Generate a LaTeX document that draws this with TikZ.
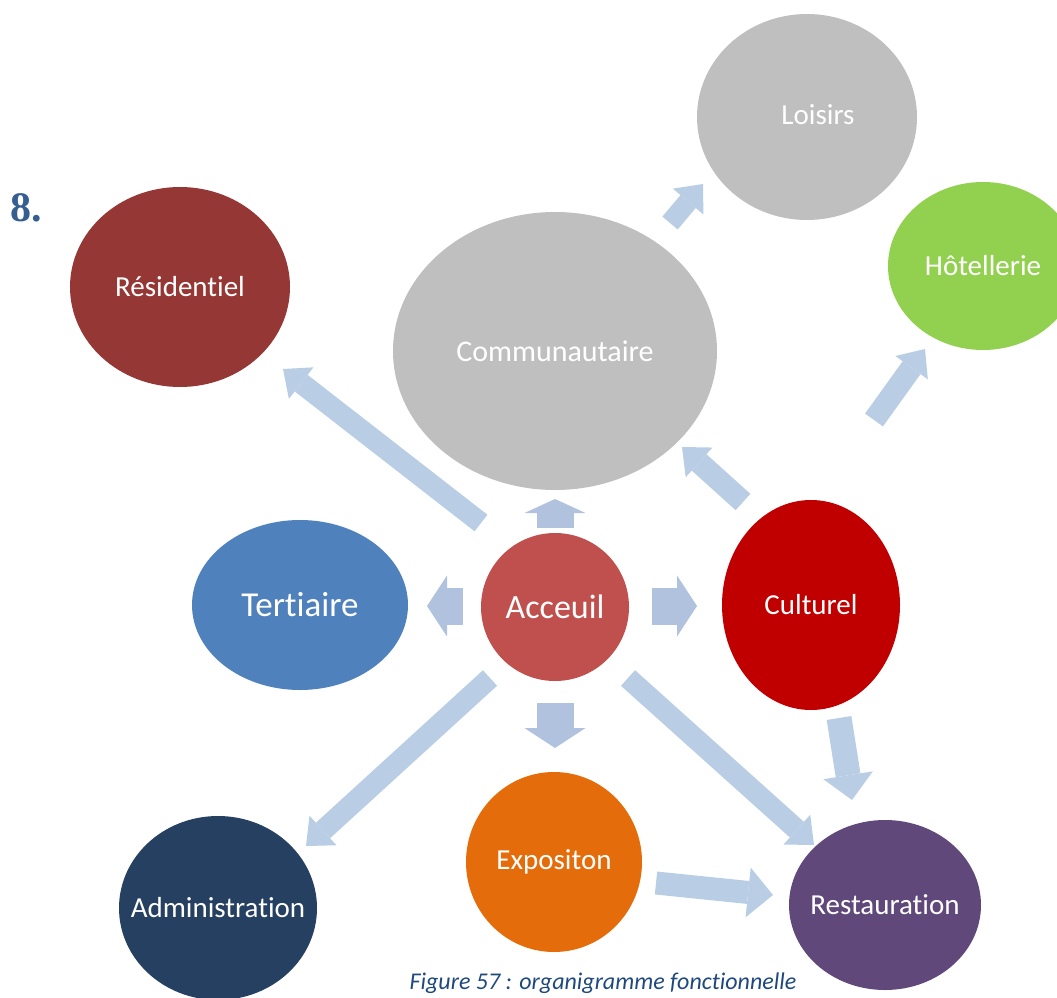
\documentclass[tikz,border=0pt]{standalone}
\usepackage{fontspec}
\setmainfont{Carlito}[Ligatures=NoCommon]
\newfontfamily\headfont{Liberation Serif}
\usepackage{tikz}
\usetikzlibrary{shapes.geometric, arrows.meta}
\definecolor{bubblegray}{RGB}{191,191,191}
\definecolor{hotelgreen}{RGB}{146,208,80}
\definecolor{resred}{RGB}{149,55,53}
\definecolor{tertblue}{RGB}{79,129,189}
\definecolor{accred}{RGB}{192,80,77}
\definecolor{cultred}{RGB}{192,0,0}
\definecolor{expoorange}{RGB}{228,108,10}
\definecolor{adminnavy}{RGB}{37,64,97}
\definecolor{restpurple}{RGB}{96,73,122}
\definecolor{linkblue}{RGB}{185,205,229}
\definecolor{stubblue}{RGB}{176,194,222}
\definecolor{headblue}{RGB}{54,95,145}
\definecolor{captionblue}{RGB}{31,73,125}
\tikzstyle{bubble} = [ellipse, inner sep=0pt]
\tikzstyle{every label} = [text=white, inner sep=0pt, font=\fontsize{29}{34}\selectfont]
\tikzstyle{link} = [draw=linkblue, line width=21pt, -{Triangle[length=23pt, width=40pt, line width=0pt]}]
\tikzstyle{widelink} = [draw=linkblue, line width=25pt, -{Triangle[length=25pt, width=50pt, line width=0pt]}]
\tikzstyle{stub} = [draw=stubblue, line width=37pt, -{Triangle[length=20pt, width=61pt, line width=0pt]}]

\begin{document}
\begin{tikzpicture}[x=1pt, y=-1pt]
    \useasboundingbox (0,0) rectangle (1057,998);
    \clip (0,0) rectangle (1057,998);
    % bubbles
    \node[bubble, fill=bubblegray, minimum width=220pt, minimum height=206pt,
        label={[xshift=11pt, yshift=2pt]center:Loisirs}] (loisirs) at (807,117) {};
    \node[bubble, fill=hotelgreen, minimum width=190pt, minimum height=168pt,
        label=center:Hôtellerie] (hotel) at (983,266) {};
    \node[bubble, fill=resred, minimum width=220pt, minimum height=200pt,
        label=center:Résidentiel] (res) at (180,287) {};
    \node[bubble, fill=bubblegray, minimum width=324pt, minimum height=278pt,
        label={[font=\fontsize{30}{36}\selectfont]center:Communautaire}] (comm) at (555,351) {};
    \node[bubble, fill=tertblue, minimum width=216pt, minimum height=170pt,
        label={[font=\fontsize{35}{42}\selectfont]center:Tertiaire}] (tert) at (300,605) {};
    \node[bubble, fill=accred, minimum width=148pt, minimum height=148pt,
        label={[font=\fontsize{34}{40}\selectfont]center:Acceuil}] (acc) at (555,607) {};
    \node[bubble, fill=cultred, minimum width=178pt, minimum height=210pt,
        label=center:Culturel] (cult) at (811,605) {};
    \node[bubble, fill=expoorange, minimum width=176pt, minimum height=180pt,
        label=center:Expositon] (expo) at (554,862) {};
    \node[bubble, fill=adminnavy, minimum width=198pt, minimum height=184pt,
        label=center:Administration] (admin) at (218,908) {};
    \node[bubble, fill=restpurple, minimum width=192pt, minimum height=170pt,
        label=center:Restauration] (rest) at (885,905) {};

    % arrow ends
    \coordinate (acc-res-t) at (481,523);
    \coordinate (acc-res-h) at (283,369);
    \coordinate (acc-admin-t) at (490,678);
    \coordinate (acc-admin-h) at (306,846);
    \coordinate (acc-rest-t) at (628,678);
    \coordinate (acc-rest-h) at (814,845);
    \coordinate (expo-rest-t) at (656,883);
    \coordinate (expo-rest-h) at (773,895);
    \coordinate (cult-rest-t) at (839,718);
    \coordinate (cult-rest-h) at (852,800);
    \coordinate (cult-comm-t) at (743,502);
    \coordinate (cult-comm-h) at (682,447);
    \coordinate (cult-hotel-t) at (874,420);
    \coordinate (cult-hotel-h) at (925,349);
    \coordinate (comm-lois-t) at (670,223);
    \coordinate (comm-lois-h) at (703,184);
    \coordinate (acc-up-t) at (555,528);
    \coordinate (acc-up-h) at (555,499);
    \coordinate (acc-left-t) at (463,606);
    \coordinate (acc-left-h) at (427,606);
    \coordinate (acc-right-t) at (652,606);
    \coordinate (acc-right-h) at (697,606);
    \coordinate (acc-down-t) at (555,703);
    \coordinate (acc-down-h) at (555,748);

    % arrows
    \draw[link] (acc-res-t) -- (acc-res-h);
    \draw[link] (acc-admin-t) -- (acc-admin-h);
    \draw[link] (acc-rest-t) -- (acc-rest-h);
    \draw[widelink, line width=23pt] (expo-rest-t) -- (expo-rest-h);
    \draw[widelink] (cult-rest-t) -- (cult-rest-h);
    \draw[link, line width=22pt] (cult-comm-t) -- (cult-comm-h);
    \draw[link, line width=22pt] (cult-hotel-t) -- (cult-hotel-h);
    \draw[link, line width=20pt] (comm-lois-t) -- (comm-lois-h);
    \draw[stub, -{Triangle[length=14pt, width=61pt, line width=0pt]}] (acc-up-t) -- (acc-up-h);
    \draw[stub] (acc-left-t) -- (acc-left-h);
    \draw[stub] (acc-right-t) -- (acc-right-h);
    \draw[stub] (acc-down-t) -- (acc-down-h);

    % heading and caption
    \node[font=\headfont\bfseries\fontsize{42}{48}\selectfont, text=headblue, inner sep=0pt]
        (num) at (26,208) {8.};
    \node[font=\itshape\fontsize{24}{28}\selectfont, text=captionblue, inner sep=0pt]
        (caption) at (603,983) {Figure 57 : organigramme fonctionnelle};
\end{tikzpicture}
\end{document}
